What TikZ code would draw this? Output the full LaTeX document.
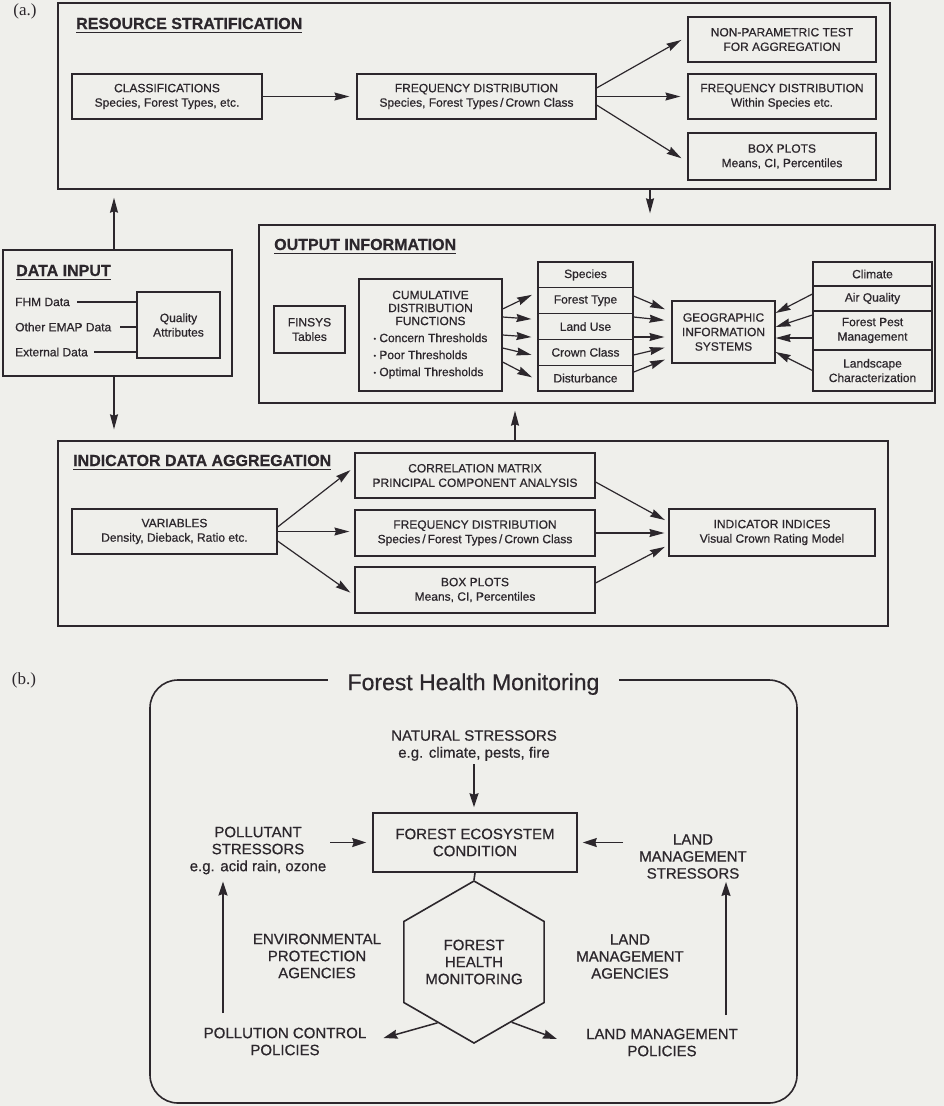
\documentclass[tikz,border=0pt]{standalone}
\usepackage{fontspec}
\setmainfont{Liberation Sans}[RawFeature={embolden=0.6}]
\newfontfamily\labserif{Liberation Serif}
\usetikzlibrary{arrows.meta,shapes.geometric}
\definecolor{ink}{RGB}{44,39,44}
\definecolor{paper}{RGB}{239,239,235}
\tikzset{
  panel/.style={draw=ink, line width=1.4pt, inner sep=0pt},
  cell/.style={draw=ink, line width=1.2pt, align=center, inner sep=1pt,
    font=\fontsize{12}{14.5}\selectfont, text=ink},
  colcell/.style={cell, minimum width=95pt, minimum height=25.8pt},
  rcell/.style={cell, minimum width=119pt},
  head/.style={font=\fontsize{16}{18}\selectfont\bfseries, text=ink,
    inner sep=0pt, anchor=base west},
  uline/.style={draw=ink, line width=1.3pt},
  item/.style={font=\fontsize{12}{14}\selectfont, text=ink, inner sep=1pt, anchor=west},
  link/.style={draw=ink, line width=1.2pt},
  arr/.style={draw=ink, line width=1.2pt, shorten >=7pt,
    -{Stealth[length=15pt,width=8pt,inset=1.5pt]}},
  lbl/.style={align=center, font=\fontsize{15}{17}\selectfont, text=ink, inner sep=1pt},
  arrb/.style={draw=ink, line width=1.5pt,
    -{Stealth[length=14pt,width=9pt,inset=1.5pt]}},
  tag/.style={font=\labserif\fontsize{17}{20}\selectfont, text=ink}
}
\begin{document}
\begin{tikzpicture}[x=1pt,y=-1pt]
\fill[paper] (0,0) rectangle (944,1106);
\useasboundingbox (0,0) rectangle (944,1106);

% ---------------- part (a) ----------------
\node[tag] (la) at (25,11) {(a.)};

% resource stratification
\node[panel, minimum width=832pt, minimum height=186pt] (rs) at (474,96) {};
\node[head] (rsT) at (76,29) {RESOURCE STRATIFICATION};
\draw[uline] ([yshift=-3.3pt]rsT.base west) -- ([yshift=-3.3pt]rsT.base east);
\node[cell, minimum width=190pt, minimum height=45pt] (cls) at (167,96.5)
  {CLASSIFICATIONS\\Species, Forest Types, etc.};
\node[cell, minimum width=239pt, minimum height=45pt] (fd) at (476.5,96.5)
  {FREQUENCY DISTRIBUTION\\Species, Forest Types\,/\,Crown Class};
\node[cell, minimum width=188pt, minimum height=45pt] (npt) at (782,39.5)
  {NON-PARAMETRIC TEST\\FOR AGGREGATION};
\node[cell, minimum width=188pt, minimum height=45pt] (fdw) at (782,96.5)
  {FREQUENCY DISTRIBUTION\\Within Species etc.};
\node[cell, minimum width=188pt, minimum height=47pt] (bp) at (782,156.5)
  {BOX PLOTS\\Means, CI, Percentiles};
\draw[arr] (cls) -- (fd);
\draw[arr] ([yshift=8.5pt]fd.east) -- ([yshift=3pt]npt.west);
\draw[arr] (fd.east) -- (fdw.west);
\draw[arr] ([yshift=-8.5pt]fd.east) -- ([yshift=-5.5pt]bp.west);

% data input
\node[panel, minimum width=229pt, minimum height=126pt] (di) at (117.5,313) {};
\node[head] (diT) at (16,276) {DATA INPUT};
\draw[uline] ([yshift=-3.3pt]diT.base west) -- ([yshift=-3.3pt]diT.base east);
\node[cell, minimum width=83pt, minimum height=66pt] (qa) at (178.5,325) {Quality\\Attributes};
\node[item] (fhm) at (14,302) {FHM Data};
\node[item] (emap) at (14,327) {Other EMAP Data};
\node[item] (ext) at (14,352) {External Data};
\draw[link] ([xshift=6pt]fhm.east) -- (fhm.east -| qa.west);
\draw[link] ([xshift=8pt]emap.east) -- (emap.east -| qa.west);
\draw[link] ([xshift=5pt]ext.east) -- (ext.east -| qa.west);

% output information
\node[panel, minimum width=676pt, minimum height=178pt] (oi) at (597,314) {};
\node[head] (oiT) at (274,250) {OUTPUT INFORMATION};
\draw[uline] ([yshift=-3.3pt]oiT.base west) -- ([yshift=-3.3pt]oiT.base east);
\node[cell, minimum width=71pt, minimum height=47pt] (fin) at (309.5,329.5) {FINSYS\\Tables};
\node[cell, minimum width=143pt, minimum height=112pt, font=\fontsize{12}{13}\selectfont] (cdf) at (430.5,335)
  {\begin{tabular}{@{}l@{}}
   \multicolumn{1}{@{}c@{}}{CUMULATIVE}\\
   \multicolumn{1}{@{}c@{}}{DISTRIBUTION}\\
   \multicolumn{1}{@{}c@{}}{FUNCTIONS}\\[4pt]
   \raisebox{1pt}{\fontsize{7}{7}\selectfont•} Concern Thresholds\\[4pt]
   \raisebox{1pt}{\fontsize{7}{7}\selectfont•} Poor Thresholds\\[4pt]
   \raisebox{1pt}{\fontsize{7}{7}\selectfont•} Optimal Thresholds
   \end{tabular}};
\node[colcell] (sp) at (585.5,274.9) {Species};
\node[colcell] (ft) at (585.5,300.7) {Forest Type};
\node[colcell] (lu) at (585.5,326.5) {Land Use};
\node[colcell] (cc) at (585.5,352.3) {Crown Class};
\node[colcell] (ds) at (585.5,378.1) {Disturbance};
\node[cell, minimum width=103pt, minimum height=62pt] (gis) at (723.5,332)
  {GEOGRAPHIC\\INFORMATION\\SYSTEMS};
\node[rcell, minimum height=24pt] (cl) at (872.5,274) {Climate};
\node[rcell, minimum height=25pt] (aq) at (872.5,298.5) {Air Quality};
\node[rcell, minimum height=39pt] (fp) at (872.5,330.5) {Forest Pest\\Management};
\node[rcell, minimum height=41pt] (lc) at (872.5,370.5) {Landscape\\Characterization};

\draw[arr, shorten >=6pt] ([yshift=26pt]cdf.east) -- ([yshift=8.5pt]ft.west);
\draw[arr, shorten >=6pt] ([yshift=18pt]cdf.east) -- ([yshift=7pt]lu.west);
\draw[arr, shorten >=6pt] (cdf.east) -- ([yshift=-11pt]lu.west);
\draw[arr, shorten >=6pt] ([yshift=-13pt]cdf.east) -- ([yshift=-4pt]cc.west);
\draw[arr, shorten >=6pt] ([yshift=-27pt]cdf.east) -- ([yshift=-2pt]ds.west);

\draw[arr] ([yshift=4.7pt]ft.east) -- ([yshift=20pt]gis.west);
\draw[arr] ([yshift=9.5pt]lu.east) -- ([yshift=11pt]gis.west);
\draw[arr] ([yshift=-10.5pt]lu.east) -- ([yshift=-5pt]gis.west);
\draw[arr] ([yshift=-2.7pt]cc.east) -- ([yshift=-14pt]gis.west);
\draw[arr] ([yshift=6pt]ds.east) -- ([yshift=-25pt]gis.west);

\draw[arr, shorten >=0pt] ([yshift=4.5pt]aq.west) -- ([yshift=19pt]gis.east);
\draw[arr, shorten >=0pt] ([yshift=15.5pt]fp.west) -- ([yshift=5pt]gis.east);
\draw[arr, shorten >=0pt] ([yshift=-7.5pt]fp.west) -- ([yshift=-6pt]gis.east);
\draw[arr, shorten >=0pt] (lc.west) -- ([yshift=-20pt]gis.east);

% indicator data aggregation
\node[panel, minimum width=830pt, minimum height=185pt] (ida) at (473,533.5) {};
\node[head] (idaT) at (73,466) {INDICATOR DATA AGGREGATION};
\draw[uline] ([yshift=-3.5pt]idaT.base west) -- ([yshift=-3.5pt]idaT.base east);
\node[cell, minimum width=205pt, minimum height=45pt] (var) at (174.5,531.5)
  {VARIABLES\\Density, Dieback, Ratio etc.};
\node[cell, minimum width=240pt, minimum height=45pt] (cm) at (475,475.5)
  {CORRELATION MATRIX\\PRINCIPAL COMPONENT ANALYSIS};
\node[cell, minimum width=240pt, minimum height=46pt] (fd2) at (475,533)
  {FREQUENCY DISTRIBUTION\\Species\,/\,Forest Types\,/\,Crown Class};
\node[cell, minimum width=240pt, minimum height=46pt] (bp2) at (475,590)
  {BOX PLOTS\\Means, CI, Percentiles};
\node[cell, minimum width=206pt, minimum height=47pt] (ii) at (772,532.5)
  {INDICATOR INDICES\\Visual Crown Rating Model};
\draw[arr, shorten >=5pt] ([yshift=4.5pt]var.east) -- ([yshift=8.5pt]cm.west);
\draw[arr, shorten >=5pt] (var.east) -- (var.east -| fd2.west);
\draw[arr, shorten >=5pt] ([yshift=-9.5pt]var.east) -- ([yshift=-5.5pt]bp2.west);
\draw[arr, shorten >=4pt] ([yshift=-6.5pt]cm.east) -- ([yshift=10.5pt]ii.west);
\draw[arr, shorten >=4pt] (fd2.east) -- (fd2.east -| ii.west);
\draw[arr, shorten >=4pt] ([yshift=7pt]bp2.east) -- ([yshift=-12.5pt]ii.west);

% links between the panels
\coordinate (diUp) at (114,250);
\coordinate (rsDown) at (650,189);
\coordinate (diDown) at (114,376);
\coordinate (idaUp) at (515,441);
\draw[arr, shorten >=8pt] (diUp) -- (diUp |- rs.south);
\draw[arr, shorten >=11pt] (rsDown) -- (rsDown |- oi.north);
\draw[arr, shorten >=11pt] (diDown) -- (diDown |- ida.north);
\draw[arr, shorten >=7pt] (idaUp) -- (idaUp |- oi.south);

% ---------------- part (b) ----------------
\node[tag] (lb) at (24,680) {(b.)};
\node[draw=ink, line width=1.6pt, rounded corners=28pt, minimum width=647pt,
  minimum height=423pt] (fhmb) at (473.5,891.5) {};
\node[fill=paper, inner xsep=20pt, inner ysep=2pt, font=\fontsize{23}{26}\selectfont,
  text=ink] (fhmT) at ([yshift=-5pt]fhmb.north) {Forest Health Monitoring};

\node[lbl] (nat) at (474,745.5) {NATURAL STRESSORS\\e.g. climate, pests, fire};
\node[draw=ink, line width=1.6pt, lbl, minimum width=204pt, minimum height=59pt] (fec)
  at (475,842.5) {FOREST ECOSYSTEM\\CONDITION};
\node[lbl] (pol) at (258,850.5) {POLLUTANT\\STRESSORS\\e.g. acid rain, ozone};
\node[lbl] (lms) at (693,856.5) {LAND\\MANAGEMENT\\STRESSORS};
\node[draw=ink, line width=1.6pt, regular polygon, regular polygon sides=6,
  shape border rotate=30, minimum size=142pt, lbl] (hex) at (474,962)
  {FOREST\\HEALTH\\MONITORING};
\node[lbl] (epa) at (317,956) {ENVIRONMENTAL\\PROTECTION\\AGENCIES};
\node[lbl] (lma) at (630,956.5) {LAND\\MANAGEMENT\\AGENCIES};
\node[lbl] (pcp) at (285,1041.5) {POLLUTION CONTROL\\POLICIES};
\node[lbl] (lmp) at (662,1042.5) {LAND MANAGEMENT\\POLICIES};

\draw[arrb, shorten <=2pt, shorten >=5pt] (nat.south) -- (nat.south |- fec.north);
\draw[arrb, shorten <=3pt, shorten >=6pt] (pol.east |- fec.west) -- (fec.west);
\coordinate (lmsA) at ([xshift=-15pt]lms.west);
\draw[arrb, shorten >=5pt] (lmsA |- fec.east) -- (fec.east);
\draw[draw=ink, line width=1.6pt] (fec.south) -- (hex.90);
\draw[arrb] (hex.239) -- ([xshift=16pt,yshift=3.5pt]pcp.east);
\draw[arrb] (hex.302) -- ([xshift=-28pt,yshift=3.5pt]lmp.west);
\coordinate (epaLo) at ([xshift=-62pt,yshift=13.5pt]pcp.north);
\coordinate (lmaLo) at ([xshift=64pt,yshift=12.5pt]lmp.north);
\draw[arrb, shorten >=6pt] (epaLo) -- (epaLo |- pol.south);
\draw[arrb, shorten >=2pt] (lmaLo) -- (lmaLo |- lms.south);
\end{tikzpicture}
\end{document}
